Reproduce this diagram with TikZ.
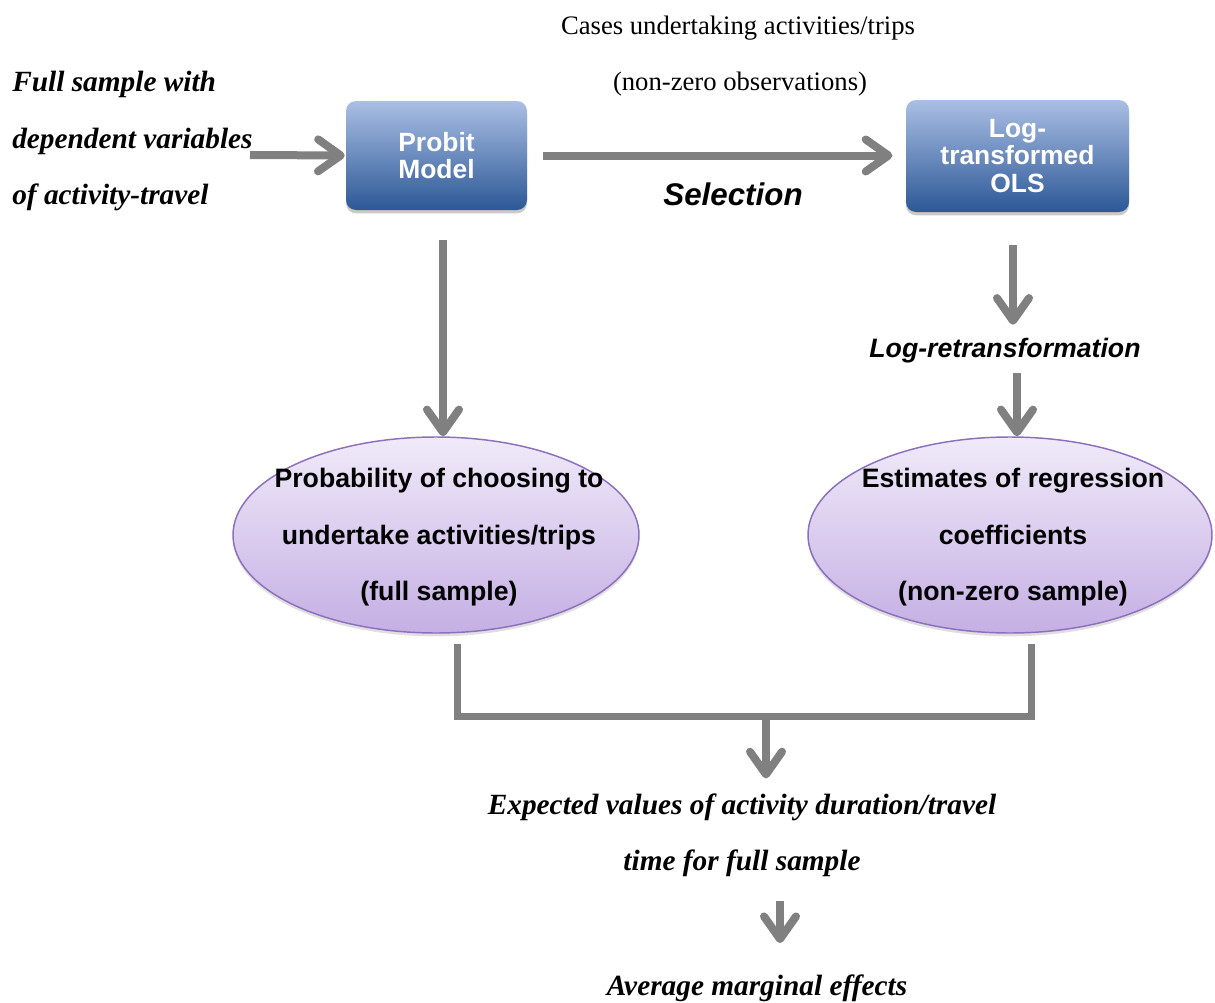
\documentclass[tikz,border=0pt]{standalone}
\usepackage{fontspec}
\setmainfont{Liberation Serif}
\setsansfont{Liberation Sans}
\usetikzlibrary{arrows.meta,calc,shadows,shapes.geometric}
\definecolor{flowgray}{HTML}{808080}
\definecolor{boxtop}{HTML}{AABFE4}
\definecolor{boxbottom}{HTML}{2C5896}
\definecolor{elltop}{HTML}{F0EAF9}
\definecolor{ellbottom}{HTML}{C5AFE4}
\definecolor{ellline}{HTML}{8C6FBD}
\tikzset{
  model/.style={rectangle, rounded corners=7.5pt, top color=boxtop, bottom color=boxbottom,
    draw=none, text=white, font=\sffamily\bfseries\fontsize{19.8}{20.5}\selectfont,
    align=center, inner sep=0pt,
    drop shadow={shadow xshift=0pt, shadow yshift=-2.5pt, opacity=0.35, fill=black!60}},
  result/.style={ellipse, top color=elltop, bottom color=ellbottom, draw=ellline,
    line width=1.1pt, inner sep=0pt,
    drop shadow={shadow xshift=0pt, shadow yshift=-2.5pt, opacity=0.25, fill=black!50}},
  flow/.style={draw=flowgray, line width=6pt,
    -{Straight Barb[length=17pt, width=24pt, line cap=round, line join=round]}},
  bracket/.style={draw=flowgray, line width=5.25pt, line cap=rect, line join=miter},
  serifit/.style={font=\bfseries\itshape\fontsize{22}{26}\selectfont, inner sep=0pt},
  serifup/.style={font=\fontsize{20}{24}\selectfont, inner sep=0pt},
  sanslabel/.style={font=\sffamily\bfseries\fontsize{20}{24}\selectfont, inner sep=0pt},
  sansit/.style={font=\sffamily\bfseries\itshape\fontsize{20}{24}\selectfont, inner sep=0pt},
}
\begin{document}
\begin{tikzpicture}[x=0.75pt, y=-0.75pt]
\useasboundingbox (0,0) rectangle (1215,1003);

% model boxes
\node[model, minimum width=135.75pt, minimum height=81.75pt] (probit) at (436.5,155.5) {Probit\\Model};
\node[model, minimum width=167.25pt, minimum height=84pt] (ols) at (1017.5,156) {Log-\\transformed\\OLS};

% result ellipses
\node[result, minimum width=304.5pt, minimum height=147pt] (probell) at (436,535) {};
\node[result, minimum width=303pt, minimum height=147pt] (olsell) at (1010,535) {};

% ellipse texts
\node[sanslabel, anchor=base] (pl1) at ($(probell.center)+(3,-48)$) {Probability of choosing to};
\node[sanslabel, anchor=base] (pl2) at ($(probell.center)+(3,9)$) {undertake activities/trips};
\node[sanslabel, anchor=base] (pl3) at ($(probell.center)+(3,65)$) {(full sample)};
\node[sanslabel, anchor=base] (ol1) at ($(olsell.center)+(3,-48)$) {Estimates of regression};
\node[sanslabel, anchor=base] (ol2) at ($(olsell.center)+(3,9)$) {coefficients};
\node[sanslabel, anchor=base] (ol3) at ($(olsell.center)+(3,65)$) {(non-zero sample)};

% input text
\node[serifit, anchor=base west] (in1) at (12,91) {Full sample with};
\node[serifit, anchor=base west] (in2) at (12,148) {dependent variables};
\node[serifit, anchor=base west] (in3) at (12,204) {of activity-travel};

% selection labels
\node[serifup, anchor=base] (cases1) at (738,35) {Cases undertaking activities/trips};
\node[serifup, anchor=base] (cases2) at (740,90) {(non-zero observations)};
\node[sansit, anchor=base, font=\sffamily\bfseries\itshape\fontsize{23.5}{28}\selectfont] (sel) at (733,205) {Selection};

% log retransformation label
\node[sansit, anchor=base] (logr) at (1005,357) {Log-retransformation};

% outcome texts
\node[serifit, anchor=base] (exp1) at (742,814) {Expected values of activity duration/travel};
\node[serifit, anchor=base] (exp2) at (742,870) {time for full sample};
\node[serifit, anchor=base] (ame) at (757,995) {Average marginal effects};

% connector ends
\coordinate (instart) at (250,155);
\coordinate (join) at (766,716);

% connectors
\draw[flow] (instart) -- ($(probit.west)+(-1,0)$);
\draw[flow, shorten <=12pt, shorten >=10pt] (probit.east) -- (ols.west |- probit.east);
\draw[flow] ($(probit.south)+(6.5,30)$) -- (probell.north -| {$(probit.south)+(6.5,0)$}) ;
\draw[flow, shorten >=9.5pt] ($(ols.south)+(-4.5,33)$) -- (logr.north -| {$(ols.south)+(-4.5,0)$});
\draw[flow] ($(logr.south)+(12,10)$) -- (olsell.north -| {$(logr.south)+(12,0)$});
\draw[bracket] ($(probell.south)+(21,14)$) |- (join) -| ($(olsell.south)+(21,14)$);
\draw[flow, shorten >=11pt] (join) -- (exp1.north -| join);
\draw[flow] ($(exp2.south)+(38,24)$) -- ($(ame.north)+(23,-31)$);
\end{tikzpicture}
\end{document}
